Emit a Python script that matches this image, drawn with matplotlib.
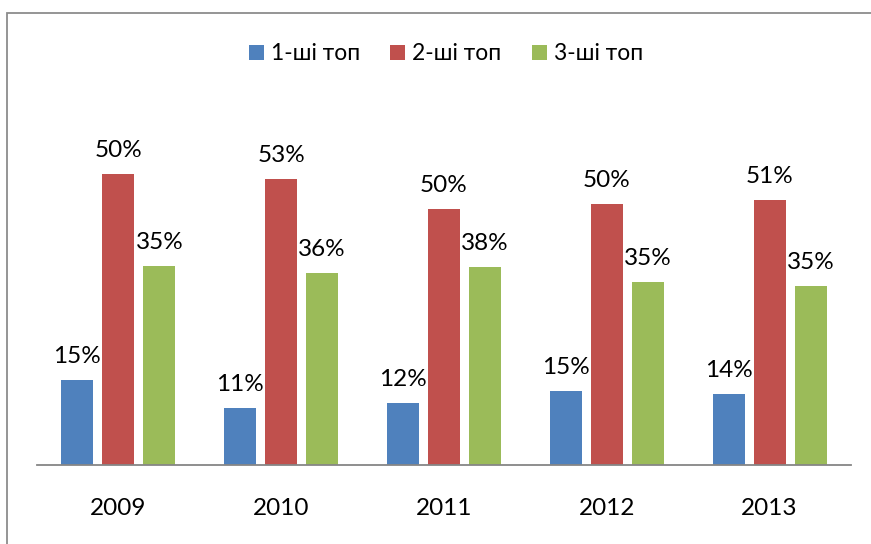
import matplotlib
matplotlib.use("Agg")
import matplotlib.pyplot as plt
from matplotlib.patches import Rectangle, Patch
import numpy as np

plt.rcParams['font.family'] = ['Lato', 'DejaVu Sans']

years = ["2009", "2010", "2011", "2012", "2013"]
series_names = ["1-ші топ", "2-ші топ", "3-ші топ"]
# bar heights as drawn (percent units)
top1 = [14.6, 9.8, 10.7, 12.7, 12.2]
top2 = [50.0, 49.2, 44.1, 44.9, 45.6]
top3 = [34.2, 33.0, 34.0, 31.4, 30.8]
# data labels as printed
labels1 = ["15%", "11%", "12%", "15%", "14%"]
labels2 = ["50%", "53%", "50%", "50%", "51%"]
labels3 = ["35%", "36%", "38%", "35%", "35%"]

colors = ["#4F81BD", "#C0504D", "#9BBB59"]

W, H = 871, 544
fig = plt.figure(figsize=(W / 100, H / 100), dpi=100)
ax = fig.add_axes([37 / W, (H - 465) / H, 814 / W, (465 - 116.2) / H])

x = np.arange(len(years))
offset = 0.252
width = 0.197
series = [top1, top2, top3]
lbls = [labels1, labels2, labels3]
for k, (vals, labs) in enumerate(zip(series, lbls)):
    xs = x + (k - 1) * offset
    ax.bar(xs, vals, width=width, color=colors[k], edgecolor='none', zorder=2)
    for xi, v, t in zip(xs, vals, labs):
        ax.annotate(t, (xi, v), xytext=(0, 17), textcoords='offset pixels',
                    ha='center', va='baseline', fontsize=17.5, color='black')

ax.set_xlim(-0.5, len(years) - 0.5)
ax.set_ylim(0, 60)
ax.set_yticks([])
for s in ['top', 'left', 'right']:
    ax.spines[s].set_visible(False)
ax.spines['bottom'].set_color('#868686')
ax.spines['bottom'].set_linewidth(1.3)
ax.set_xticks(x)
ax.set_xticklabels(years, fontsize=17.5)
ax.tick_params(axis='x', length=0, pad=24)
ax.patch.set_visible(False)

handles = [Patch(facecolor=c, edgecolor='none') for c in colors]
fig.legend(handles, series_names, loc='center', bbox_to_anchor=(446 / W, 1 - 54 / H),
           ncol=3, frameon=False, fontsize=16.5, handlelength=0.655, handleheight=0.655,
           handletextpad=0.31, columnspacing=1.31)

# outer chart border (only top and left visible)
fig.patches.append(Rectangle((7 / W, -0.1), 1.2, 1 - 13 / H + 0.1, transform=fig.transFigure,
                             fill=False, edgecolor='#8c8c8c', linewidth=1.3))

fig.savefig("out.png", dpi=100)
